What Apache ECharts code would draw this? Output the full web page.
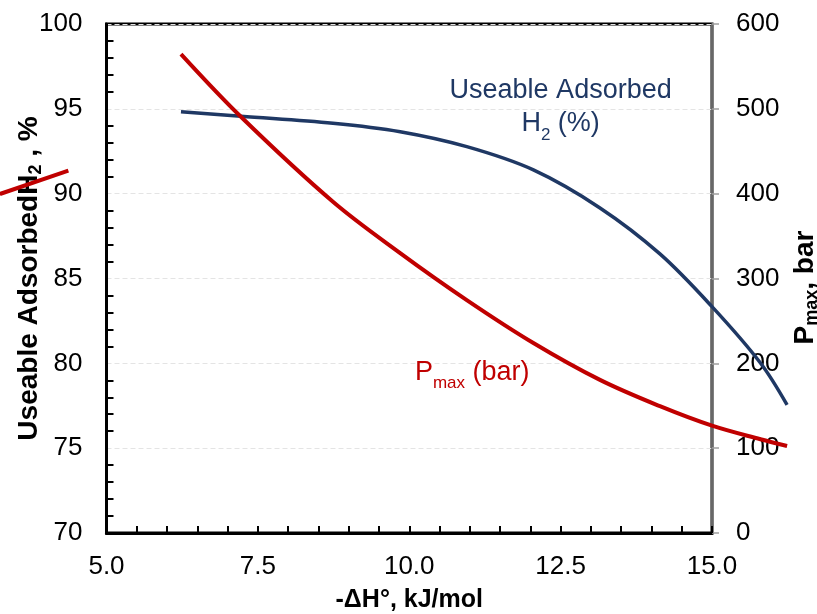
<!DOCTYPE html>
<html>
<head>
<meta charset="utf-8">
<title>Useable adsorbed H2 and Pmax vs -ΔH°</title>
<script src="https://cdn.jsdelivr.net/npm/echarts@6/dist/echarts.min.js"></script>
<style>
  html, body { margin: 0; padding: 0; background: #fff; }
  #chart { width: 817px; height: 614px; }
</style>
</head>
<body>
<div id="chart"></div>
<script>
// -ΔH° (kJ/mol) sample positions shared by both curves
const dH = [6.23, 7.22, 8.74, 9.85, 10.95, 12.05, 13.15, 14.14, 15.0, 15.8, 16.24];
// Useable adsorbed H2, % (left axis)
const useableH2 = [94.83, 94.56, 94.15, 93.65, 92.77, 91.40, 89.16, 86.45, 83.34, 80.02, 77.55];
// Pmax, bar (right axis)
const pMax = [564.6, 490.7, 390.5, 330.0, 274.6, 224.0, 180.5, 149.5, 126.5, 110.5, 102.5];
// short red stroke beside the left axis title
const strokeX = [3.24, 4.37];
const strokeY = [89.98, 91.36];

// axis ranges and tick steps
const xRange = [5, 15, 2.5];
const leftRange = [70, 100, 5];
const rightRange = [0, 600, 100];

const FONT = 'Liberation Sans, Arial, sans-serif';
const NAVY = '#1F3864';
const RED = '#C00000';

// plot frame geometry
const W = 817, H = 614;
const frame = { left: 106.5, right: 105, top: 24, bottom: 81 };

// The curves run past the frame, so they live on a second, full-page grid
// whose hidden axes share the frame's scale but extend to the page edges.
function extendRange(range, lowPx, highPx, spanPx) {
  const perPx = (range[1] - range[0]) / spanPx;
  return [range[0] - lowPx * perPx, range[1] + highPx * perPx];
}
const frameW = W - frame.left - frame.right;
const frameH = H - frame.top - frame.bottom;
const xWide = extendRange(xRange, frame.left, frame.right, frameW);
const leftWide = extendRange(leftRange, frame.bottom, frame.top, frameH);
const rightWide = extendRange(rightRange, frame.bottom, frame.top, frameH);

const pairs = (xs, ys) => xs.map((x, i) => [x, ys[i]]);

const hiddenAxis = (gridIndex, ext) => ({
  type: 'value', gridIndex, min: ext[0], max: ext[1], show: false,
  axisLine: { show: false }, axisTick: { show: false }, axisLabel: { show: false }, splitLine: { show: false }
});

const subRich = (color) => ({
  b: { fontFamily: FONT, fontSize: 28, fontWeight: 'bold', color, lineHeight: 30, verticalAlign: 'top' },
  s: { fontFamily: FONT, fontSize: 18, fontWeight: 'bold', color, lineHeight: 18, verticalAlign: 'bottom' }
});

const chart = echarts.init(document.getElementById('chart'), null, { renderer: 'canvas' });

const option = {
  animation: false,
  backgroundColor: '#fff',
  grid: [
    {
      left: frame.left, right: frame.right, top: frame.top, bottom: frame.bottom,
      outerBoundsMode: 'none', containLabel: false,
      show: true, borderColor: '#000', borderWidth: 3, backgroundColor: 'transparent'
    },
    { left: 0, right: 0, top: 0, bottom: 0, outerBoundsMode: 'none', containLabel: false, show: false }
  ],
  xAxis: [
    {
      type: 'value',
      gridIndex: 0,
      min: xRange[0], max: xRange[1], interval: xRange[2],
      name: '-ΔH°, kJ/mol',
      nameLocation: 'middle',
      nameGap: 55,
      nameMoveOverlap: false,
      nameTextStyle: { fontFamily: FONT, fontSize: 25, fontWeight: 'bold', color: '#000' },
      axisLine: { show: true, lineStyle: { color: '#000', width: 3 } },
      axisTick: { show: true, inside: true, length: 7, lineStyle: { color: '#000', width: 2 } },
      minorTick: { show: true, splitNumber: 5, length: 7, lineStyle: { color: '#000', width: 2 } },
      axisLabel: {
        margin: 21, fontFamily: FONT, fontSize: 26, color: '#000',
        formatter: v => v.toFixed(1)
      },
      splitLine: { show: false }
    },
    hiddenAxis(1, xWide)
  ],
  yAxis: [
    {
      type: 'value',
      gridIndex: 0,
      position: 'left',
      min: leftRange[0], max: leftRange[1], interval: leftRange[2],
      name: '{b|Useable AdsorbedH}{s|2}{b| , %}',
      nameLocation: 'middle',
      nameGap: 61,
      nameMoveOverlap: false,
      nameTextStyle: { color: '#000', rich: subRich('#000') },
      axisLine: { show: true, lineStyle: { color: '#000', width: 3 } },
      axisTick: { show: false, inside: true, length: 7, lineStyle: { color: '#000', width: 2 } },
      minorTick: { show: true, splitNumber: 5, length: 7, lineStyle: { color: '#000', width: 2 } },
      axisLabel: { margin: 24, fontFamily: FONT, fontSize: 26, color: '#000' },
      splitLine: { show: true, lineStyle: { color: '#e4e4e4', width: 1, type: [5, 3] } }
    },
    {
      type: 'value',
      gridIndex: 0,
      position: 'right',
      min: rightRange[0], max: rightRange[1], interval: rightRange[2],
      name: '{b|P}{s|max}{b|, bar}',
      nameLocation: 'middle',
      nameGap: 79,
      nameMoveOverlap: false,
      nameTextStyle: { color: '#000', padding: [0, 18, 0, 0], rich: subRich('#000') },
      axisLine: { show: true, lineStyle: { color: '#8a8a8a', width: 1.5 } },
      axisTick: { show: true, inside: false, length: 7, lineStyle: { color: '#a0a0a0', width: 1.5 } },
      axisLabel: { margin: 24, fontFamily: FONT, fontSize: 26, color: '#000' },
      splitLine: { show: false }
    },
    hiddenAxis(1, leftWide),
    hiddenAxis(1, rightWide)
  ],
  series: [
    {
      name: 'Useable Adsorbed H2 (%)',
      type: 'line',
      xAxisIndex: 1, yAxisIndex: 2,
      data: pairs(dH, useableH2),
      smooth: 0.35,
      showSymbol: false,
      lineStyle: { color: NAVY, width: 3.5 },
      z: 3
    },
    {
      name: 'Pmax (bar)',
      type: 'line',
      xAxisIndex: 1, yAxisIndex: 3,
      data: pairs(dH, pMax),
      smooth: 0.35,
      showSymbol: false,
      lineStyle: { color: RED, width: 4 },
      z: 4
    },
    {
      name: 'stroke',
      type: 'line',
      xAxisIndex: 1, yAxisIndex: 2,
      data: pairs(strokeX, strokeY),
      showSymbol: false,
      lineStyle: { color: RED, width: 4 },
      z: 5
    }
  ]
};

chart.setOption(option);

// series captions placed in data space of the framed axes
const h2Pos = chart.convertToPixel({ xAxisIndex: 0, yAxisIndex: 0 }, [12.5, 94.9]);
const pPos = chart.convertToPixel({ xAxisIndex: 0, yAxisIndex: 0 }, [11.04, 79.3]);

const captionRich = (color) => ({
  a: { fontFamily: FONT, fontSize: 27, fill: color, lineHeight: 33, verticalAlign: 'top' },
  s: { fontFamily: FONT, fontSize: 17, fill: color, lineHeight: 17, verticalAlign: 'bottom' }
});

chart.setOption({
  graphic: [
    {
      type: 'text',
      x: h2Pos[0], y: h2Pos[1],
      z: 10,
      style: {
        text: '{a|Useable Adsorbed}\n{a|H}{s|2}{a| (%)}',
        align: 'center',
        verticalAlign: 'middle',
        rich: captionRich(NAVY)
      }
    },
    {
      type: 'text',
      x: pPos[0], y: pPos[1],
      z: 10,
      style: {
        text: '{a|P}{s|max}{a| (bar)}',
        align: 'center',
        verticalAlign: 'middle',
        rich: captionRich(RED)
      }
    }
  ]
});
</script>
</body>
</html>
